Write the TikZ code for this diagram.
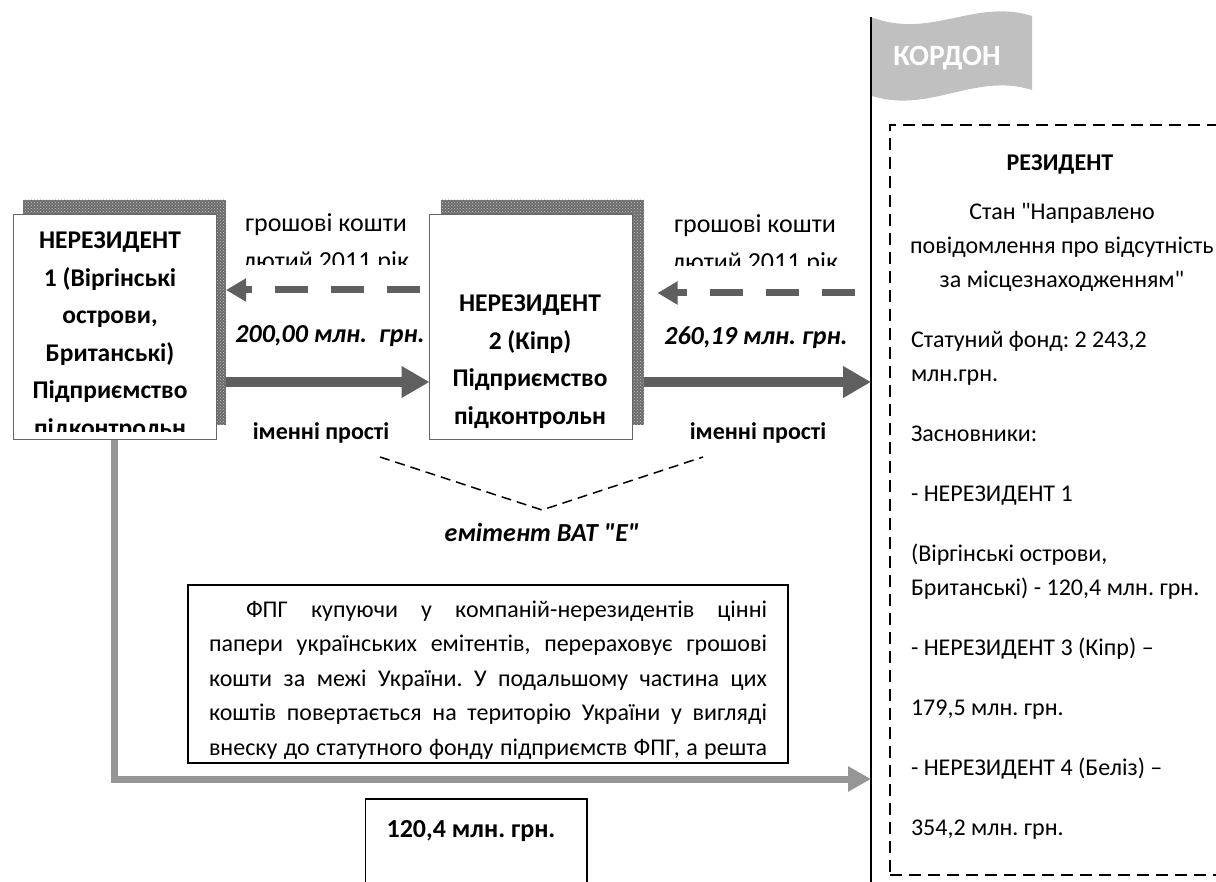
\documentclass[tikz,border=0pt]{standalone}
\usepackage{fontspec}
\setmainfont{Carlito}[Ligatures=TeXOff]
\usetikzlibrary{arrows.meta,patterns}
\definecolor{flowgray}{HTML}{5F5F5F}
\definecolor{backgray}{HTML}{969696}
\definecolor{flaggray}{HTML}{C0C0C0}
\newcommand{\jline}[1]{\makebox[558pt][s]{#1}}
\frenchspacing
\begin{document}
\begin{tikzpicture}[x=1pt,y=-1pt,
    every node/.style={inner sep=0pt,outer sep=0pt},
    nrbox/.style={draw=black!60,line width=1pt,fill=white,minimum width=203pt,minimum height=225pt},
    nrshadow/.style={preaction={fill=black!58},pattern=crosshatch dots,pattern color=black!22,minimum width=203pt,minimum height=225pt},
    nrtext/.style={font=\bfseries\fontsize{25.5}{37.5}\selectfont,align=center,anchor=base},
    flowtext/.style={font=\fontsize{26}{37.5}\selectfont,align=center,anchor=base},
    sumtext/.style={font=\bfseries\itshape\fontsize{26}{30}\selectfont,anchor=base},
    kindtext/.style={font=\bfseries\fontsize{24}{30}\selectfont,anchor=base},
    restext/.style={font=\fontsize{24}{34}\selectfont,anchor=base west},
    cashflow/.style={draw=flowgray,line width=7pt,dash pattern=on 33pt off 23pt,-{Triangle[length=20pt,width=22pt]}},
    shareflow/.style={draw=flowgray,line width=10pt,-{Triangle[length=28pt,width=30pt]}},
    backflow/.style={draw=backgray,line width=7pt,-{Triangle[length=23pt,width=24pt]}},
    issuerline/.style={line width=1.5pt,dash pattern=on 10pt off 6pt}
  ]
    \useasboundingbox (0,0) rectangle (1216,882);
    \coordinate (poletop) at (871,17);
    \coordinate (polebot) at (871,882);
    \coordinate (lvlcash) at (0,290);
    \coordinate (lvlcashb) at (0,293);
    \coordinate (lvlshare) at (0,382);
    \coordinate (lvlback) at (0,779);

    \fill[flaggray] (poletop) .. controls (930,40) and (975,-2) .. (1032,16) -- (1032,90) .. controls (975,72) and (930,114) .. (872,96) -- cycle;
    \node[font=\bfseries\fontsize{29.5}{32}\selectfont,text=white,anchor=base] (border) at (947,66) {КОРДОН};
    \draw[line width=2pt] (poletop) -- (polebot);

    \node[draw,line width=1.5pt,dash pattern=on 12pt off 7pt,minimum width=350pt,minimum height=750pt] (resbox) at (1065,500) {};
    \node[restext,font=\bfseries\fontsize{24}{34}\selectfont,anchor=base] (resname) at (1060,171) {РЕЗИДЕНТ};
    \node[restext,anchor=base,align=center] (resstate) at (1062,288) {Стан "Направлено\\повідомлення про відсутність\\за місцезнаходженням"};
    \foreach \yb/\txt [count=\i] in {348/{Статуний фонд: 2 243,2}, 382/{млн.грн.}, 442/{Засновники:}, 501/{- НЕРЕЗИДЕНТ 1}, 561/{(Віргінські острови,}, 595/{Британські) - 120,4 млн. грн.}, 655/{- НЕРЕЗИДЕНТ 3 (Кіпр) –}, 715/{179,5 млн. грн.}, 775/{- НЕРЕЗИДЕНТ 4 (Беліз) –}, 835/{354,2 млн. грн.}}
        \node[restext] (res\i) at (911,\yb) {\txt};

    \node[nrshadow] (nr1sh) at (124.5,312.5) {};
    \node[nrbox] (nr1) at (114.5,327.5) {};
    \begin{scope}
        \clip (nr1.north west) rectangle ([yshift=8pt]nr1.south east);
        \node[nrtext] (nr1txt) at (110,436.5) {НЕРЕЗИДЕНТ\\1 (Віргінські\\острови,\\Британські)\\Підприємство\\підконтрольн};
    \end{scope}
    \node[nrshadow] (nr2sh) at (542,312.5) {};
    \node[nrbox] (nr2) at (531,327.5) {};
    \node[nrtext] (nr2txt) at (530,424.5) {НЕРЕЗИДЕНТ\\2 (Кіпр)\\Підприємство\\підконтрольн};

    \begin{scope}
        \clip (200,195) rectangle (428,265);
        \node[flowtext] (cash1) at (326,269.5) {грошові кошти\\лютий 2011 рік};
    \end{scope}
    \begin{scope}
        \clip (645,195) rectangle (866,266);
        \node[flowtext] (cash2) at (755,270.5) {грошові кошти\\лютий 2011 рік};
    \end{scope}
    \draw[cashflow] ([xshift=-10pt]nr2.west |- lvlcash) -- (nr1sh.east |- lvlcash);
    \draw[cashflow] ([xshift=-16pt]poletop |- lvlcashb) -- ([xshift=14pt]nr2sh.east |- lvlcashb);
    \node[sumtext] (amount1) at (330,343) {200,00 млн.\ \ грн.};
    \node[sumtext] (amount2) at (756,345) {260,19 млн. грн.};
    \draw[shareflow] (nr1sh.east |- lvlshare) -- (nr2.west |- lvlshare);
    \draw[shareflow] (nr2sh.east |- lvlshare) -- (poletop |- lvlshare);
    \node[kindtext] (kind1) at (321,439) {іменні прості};
    \node[kindtext] (kind2) at (758,439) {іменні прості};

    \coordinate (vleft) at (380,457);
    \coordinate (vtip) at (542,510);
    \coordinate (vright) at (703,457);
    \draw[issuerline] (vleft) -- (vtip) -- (vright);
    \node[sumtext] (issuer) at (542,541) {емітент ВАТ "Е"};

    \draw[backflow] (nr1.south) |- (poletop |- lvlback);

    \node[draw,line width=1.5pt,minimum width=600pt,minimum height=178pt] (fpgbox) at (488,674) {};
    \begin{scope}
        \clip (fpgbox.north west) rectangle ([yshift=5pt]fpgbox.south east);
        \node[font=\fontsize{24}{34.5}\selectfont,align=left,anchor=base west] (fpgtxt) at (209,755) {\jline{\hspace*{37pt}ФПГ купуючи у компаній-нерезидентів цінні}\\\jline{папери українських емітентів, перераховує грошові}\\\jline{кошти за межі України. У подальшому частина цих}\\\jline{коштів повертається на територію України у вигляді}\\\jline{внеску до статутного фонду підприємств ФПГ, а решта}};
    \end{scope}

    \node[draw,line width=1.5pt,minimum width=221.5pt,minimum height=140pt,anchor=north] (sumbox) at (476,799) {};
    \node[kindtext,font=\bfseries\fontsize{26}{30}\selectfont] (sumval) at ([xshift=-5pt,yshift=-38pt]sumbox.north) {120,4 млн. грн.};
\end{tikzpicture}
\end{document}
